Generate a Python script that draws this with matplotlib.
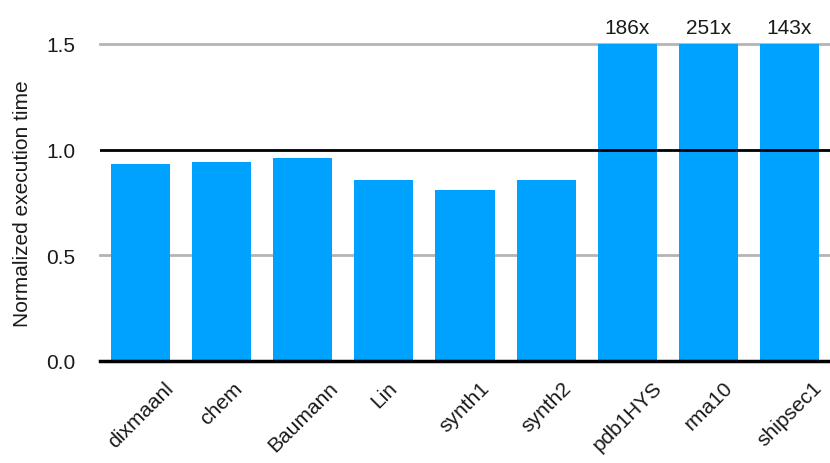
import numpy as np
import matplotlib
matplotlib.use('Agg')
from matplotlib import pyplot as plt

# benchmarks and normalized execution time (capped at 1.5 on the axis)
names = ['dixmaanl', 'chem', 'Baumann', 'Lin', 'synth1', 'synth2', 'pdb1HYS', 'rma10', 'shipsec1']
values = [0.93, 0.942, 0.962, 0.855, 0.811, 0.855, 186, 251, 143]
ymax = 1.5

plt.rcParams['font.family'] = ['Liberation Sans', 'DejaVu Sans']

fig = plt.figure(figsize=(8.3, 4.64), dpi=100)
ax = fig.add_axes([100 / 830, 102 / 464, 730 / 830, 317 / 464])

x = np.arange(len(names))
shown = [min(v, ymax) for v in values]
ax.bar(x, shown, width=0.73, color='#00a2ff', zorder=2, clip_on=True)

# grid lines: gray behind the bars, black ones at 0 and 1 on top
for yv in (0.5, 1.5):
    ax.axhline(yv, color='#b4b4b4', lw=2, zorder=1, clip_on=False)
ax.axhline(1.0, color='black', lw=2, zorder=3)
ax.axhline(0.0, color='black', lw=2.5, zorder=3, clip_on=False)

# labels for bars that go off the chart
for xi, v in zip(x, values):
    if v > ymax:
        ax.text(xi, ymax + 0.035, '%dx' % v, ha='center', va='bottom',
                fontsize=15, color='#1a1a1a')

ax.set_xlim(-0.5, len(names) - 0.5)
ax.set_ylim(0, ymax)
ax.set_yticks([0, 0.5, 1.0, 1.5])
ax.set_yticklabels(['0.0', '0.5', '1.0', '1.5'], fontsize=15, color='#1a1a1a')
ax.set_xticks(x)
ax.set_xticklabels(names, rotation=45, ha='center', fontsize=15, color='#1a1a1a')
ax.tick_params(axis='both', length=0)
ax.tick_params(axis='y', pad=18)
ax.tick_params(axis='x', pad=12)
ax.set_ylabel('Normalized execution time', fontsize=15, color='#1a1a1a', labelpad=10)
for s in ax.spines.values():
    s.set_visible(False)

fig.savefig('out.png', dpi=100)
